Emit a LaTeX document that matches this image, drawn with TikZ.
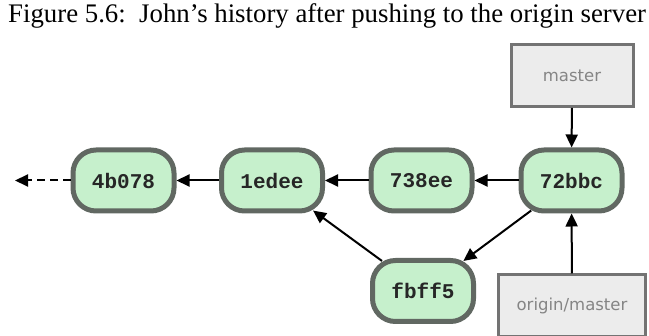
\documentclass[tikz,border=0pt]{standalone}
\usepackage{fontspec}
\setmainfont{Liberation Serif}
\setmonofont{Liberation Mono}
\newfontfamily\lblfont{DejaVu Sans}
\usetikzlibrary{arrows.meta}
\definecolor{commitfill}{HTML}{C6F0CC}
\definecolor{commitdraw}{HTML}{616862}
\definecolor{reffill}{HTML}{ECECEC}
\definecolor{refdraw}{HTML}{737373}
\definecolor{reftext}{HTML}{858585}
\begin{document}
\begin{tikzpicture}[x=1pt,y=-1pt,
  commit/.style={draw=commitdraw, fill=commitfill, line width=5pt, rounded corners=23pt,
    minimum width=101pt, minimum height=61pt, inner sep=0pt,
    font=\ttfamily\bfseries\fontsize{21}{21}\selectfont, text=black!85},
  refbox/.style={draw=refdraw, fill=reffill, line width=3pt, inner sep=0pt,
    minimum height=62pt, font=\lblfont\fontsize{16.5}{16.5}\selectfont, text=reftext},
  arr/.style={line width=2pt, -{Triangle[length=13pt,width=12pt]}}]
\useasboundingbox (0,0) rectangle (649,336);
\clip (0,0) rectangle (649,336);
\node[anchor=base west, inner sep=0pt, font=\fontsize{26.8}{26.8}\selectfont] (cap) at (8,23)
  {Figure 5.6:\ \ John's history after pushing to the origin server};
\node[commit] (c4) at (123.5,180.5) {4b078};
\node[commit] (c1) at (272,180.5) {1edee};
\node[commit] (c7) at (421.5,180.5) {738ee};
\node[commit] (c72) at (571.5,180.5) {72bbc};
\node[commit] (cf) at (423,291) {fbff5};
\node[refbox, minimum width=122pt] (m) at (572,75.5) {master};
\node[refbox, minimum width=147pt] (om) at (572,306) {origin/master};
\coordinate (tail) at (15,180.5);
\draw[arr, dash pattern=on 8pt off 5pt] (c4) -- (tail);
\draw[arr] (c1) -- (c4);
\draw[arr] (c7) -- (c1);
\draw[arr] (c72) -- (c7);
\draw[arr, shorten <=-5pt, shorten >=-5pt] (cf) -- (c1);
\draw[arr, shorten <=-5pt, shorten >=-5pt] (c72) -- (cf);
\draw[arr] (m) -- (c72);
\draw[arr] (om) -- (c72);
\end{tikzpicture}
\end{document}
